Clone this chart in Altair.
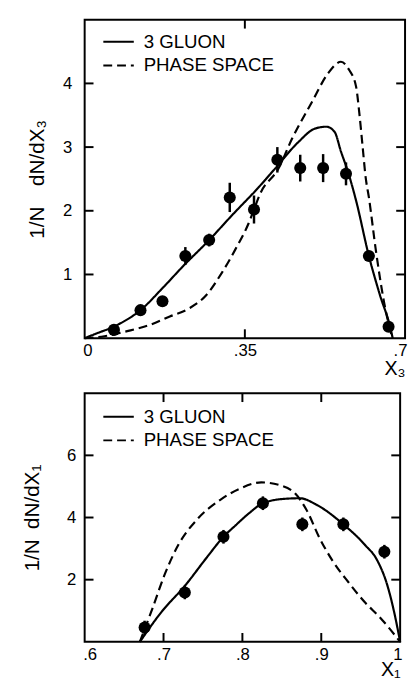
import altair as alt
import pandas as pd

FONT = "Liberation Sans"
SERIES = ["3 GLUON", "PHASE SPACE"]

# ---------------- top panel (X3) ----------------
top_gluon_x = [0.0, 0.021, 0.072, 0.122, 0.172, 0.215, 0.272, 0.322, 0.379, 0.417, 0.467,
               0.503, 0.528, 0.546, 0.56, 0.575, 0.593, 0.621, 0.645, 0.668, 0.673]
top_gluon_y = [0.0, 0.06, 0.21, 0.44, 0.80, 1.13, 1.54, 1.93, 2.36, 2.67, 3.08,
               3.29, 3.32, 3.24, 2.93, 2.62, 2.16, 1.29, 0.68, 0.16, 0.0]
top_phase_x = [0.0, 0.043, 0.093, 0.143, 0.186, 0.229, 0.265, 0.30, 0.329, 0.358, 0.372,
               0.383, 0.424, 0.453, 0.496, 0.532, 0.560, 0.578, 0.593, 0.600, 0.607,
               0.614, 0.621, 0.636, 0.654, 0.672]
top_phase_y = [0.0, 0.03, 0.11, 0.21, 0.34, 0.47, 0.67, 1.03, 1.39, 1.8, 2.06,
               2.26, 2.67, 3.13, 3.7, 4.16, 4.34, 4.21, 3.95, 3.54, 3.03,
               2.52, 2.21, 1.39, 0.57, 0.0]
top_pts_x = [0.064, 0.122, 0.170, 0.220, 0.272, 0.317, 0.370, 0.421, 0.471, 0.521, 0.571, 0.621, 0.664]
top_pts_y = [0.13, 0.44, 0.58, 1.29, 1.54, 2.21, 2.02, 2.80, 2.67, 2.67, 2.58, 1.29, 0.18]
top_pts_err = [0.0, 0.0, 0.0, 0.14, 0.10, 0.23, 0.22, 0.20, 0.21, 0.22, 0.18, 0.08, 0.0]
top_x_labels = [0, 0.35, 0.7]
top_x_ticks = [0.35]
top_y_ticks = [1, 2, 3, 4]

# ---------------- bottom panel (X1) ----------------
bot_gluon_x = [0.670, 0.698, 0.727, 0.755, 0.776, 0.791, 0.809, 0.826, 0.853, 0.873, 0.894,
               0.928, 0.955, 0.971, 0.984, 0.994, 1.0]
bot_gluon_y = [0.0, 0.98, 1.8, 2.72, 3.38, 3.74, 4.15, 4.46, 4.6, 4.62, 4.41,
               3.78, 3.13, 2.62, 1.8, 0.77, 0.0]
bot_phase_x = [0.670, 0.686, 0.702, 0.719, 0.743, 0.772, 0.796, 0.824, 0.849, 0.867, 0.881,
               0.898, 0.914, 0.935, 0.955, 0.975, 1.0]
bot_phase_y = [0.0, 1.08, 2.2, 3.13, 3.95, 4.57, 4.92, 5.13, 5.03, 4.77, 4.26,
               3.33, 2.62, 1.9, 1.28, 0.77, 0.0]
bot_pts_x = [0.676, 0.727, 0.776, 0.826, 0.876, 0.928, 0.980]
bot_pts_y = [0.46, 1.59, 3.38, 4.46, 3.78, 3.78, 2.90]
bot_pts_err = [0.22, 0.22, 0.22, 0.22, 0.22, 0.22, 0.22]
bot_x_labels = [0.6, 0.7, 0.8, 0.9, 1.0]
bot_x_ticks = [0.7, 0.8, 0.9]
bot_y_ticks = [2, 4, 6]

TICK = 9                      # inward tick length, pixels
PAD3 = "\u2003\u2003\u2003"   # trailing spaces push the y title towards the bottom


def panel(gx, gy, phx, phy, ptx, pty, pte, xdom, ydom, xlabels, xticks, yticks,
          label_expr, xtitle, ytitle, w, h, ytitle_pad, xtitle_pad,
          leg_x, leg_y, ylab_pad):
    lines = pd.DataFrame({
        "x": gx + phx,
        "y": gy + phy,
        "series": [SERIES[0]] * len(gx) + [SERIES[1]] * len(phx),
    })
    pts = pd.DataFrame({
        "x": ptx,
        "y": pty,
        "lo": [a - e for a, e in zip(pty, pte)],
        "hi": [a + e for a, e in zip(pty, pte)],
    })
    # inward ticks on all four edges, tick length converted to data units
    dy = TICK * (ydom[1] - ydom[0]) / h
    dx = TICK * (xdom[1] - xdom[0]) / w
    n, m = len(xticks), len(yticks)
    vt = pd.DataFrame({
        "x": xticks + xticks,
        "y0": [ydom[0]] * n + [ydom[1] - dy] * n,
        "y1": [ydom[0] + dy] * n + [ydom[1]] * n,
    })
    ht = pd.DataFrame({
        "y": yticks + yticks,
        "x0": [xdom[0]] * m + [xdom[1] - dx] * m,
        "x1": [xdom[0] + dx] * m + [xdom[1]] * m,
    })
    xs = alt.Scale(domain=xdom, nice=False, zero=False)
    ys = alt.Scale(domain=ydom, nice=False, zero=False)

    line_layer = alt.Chart(lines).mark_line(
        color="black", strokeWidth=2.2, interpolate="monotone"
    ).encode(
        x=alt.X("x:Q", scale=xs, axis=alt.Axis(
            orient="bottom", values=xlabels, labelExpr=label_expr,
            labelFlush=True, labelFlushOffset=2,
            ticks=False, domain=False, grid=False, labelPadding=5,
            labelFontSize=17, title=xtitle, titleFontSize=20, titleAnchor="end",
            titlePadding=xtitle_pad)),
        y=alt.Y("y:Q", scale=ys, axis=alt.Axis(
            orient="left", values=yticks, format="d", ticks=False, domain=False,
            grid=False, labelPadding=ylab_pad, labelFontSize=17,
            title=ytitle, titleFontSize=21, titlePadding=ytitle_pad)),
        strokeDash=alt.StrokeDash("series:N", scale=alt.Scale(
            domain=SERIES, range=[[1, 0], [9, 5]]), legend=alt.Legend(
            title=None, orient="none", legendX=leg_x, legendY=leg_y,
            symbolType="stroke", symbolSize=961, symbolStrokeColor="black",
            symbolStrokeWidth=2, labelFont=FONT, labelFontSize=19,
            labelColor="black", labelOffset=9, clipHeight=22, rowPadding=2,
            padding=0)),
    )

    err_layer = alt.Chart(pts).mark_rule(color="black", strokeWidth=2.5).encode(
        x=alt.X("x:Q", scale=xs),
        y=alt.Y("lo:Q", scale=ys),
        y2="hi:Q",
    )
    pt_layer = alt.Chart(pts).mark_circle(size=150, color="black", opacity=1).encode(
        x=alt.X("x:Q", scale=xs),
        y=alt.Y("y:Q", scale=ys),
    )
    vtick_layer = alt.Chart(vt).mark_rule(color="black", strokeWidth=2).encode(
        x=alt.X("x:Q", scale=xs),
        y=alt.Y("y0:Q", scale=ys),
        y2="y1:Q",
    )
    htick_layer = alt.Chart(ht).mark_rule(color="black", strokeWidth=2).encode(
        y=alt.Y("y:Q", scale=ys),
        x=alt.X("x0:Q", scale=xs),
        x2="x1:Q",
    )

    return alt.layer(line_layer, err_layer, pt_layer, vtick_layer, htick_layer
                     ).properties(width=w, height=h)


top = panel(top_gluon_x, top_gluon_y, top_phase_x, top_phase_y,
            top_pts_x, top_pts_y, top_pts_err,
            [0, 0.7], [0, 5], top_x_labels, top_x_ticks, top_y_ticks,
            "datum.value == 0 ? '0' : slice(format(datum.value, '.2~f'), 1)",
            "X\u2083", "1/N\u2003dN/dX\u2083" + PAD3, 326, 324, 15, 0,
            18, 11.5, 13)

bottom = panel(bot_gluon_x, bot_gluon_y, bot_phase_x, bot_phase_y,
               bot_pts_x, bot_pts_y, bot_pts_err,
               [0.6, 1.0], [0, 8], bot_x_labels, bot_x_ticks, bot_y_ticks,
               "datum.value >= 0.99 ? '1' : slice(format(datum.value, '.1f'), 1)",
               "X\u2081", "1/N\u2002dN/dX\u2081" + PAD3, 321, 253, 24, -3,
               18, 13, 9)

chart = alt.vconcat(top, bottom, spacing=12).resolve_scale(
    x="independent", y="independent", strokeDash="independent"
).resolve_legend(strokeDash="independent").properties(
    padding={"left": 13, "top": 4, "right": 0, "bottom": 0},
    background="white",
).configure_view(
    stroke="black", strokeWidth=2
).configure_axis(
    grid=False, domain=False, labelFont=FONT, titleFont=FONT,
    labelColor="black", titleColor="black",
    titleFontWeight="normal",
)

chart.save("out.html", embed_options={"renderer": "svg", "actions": False})
